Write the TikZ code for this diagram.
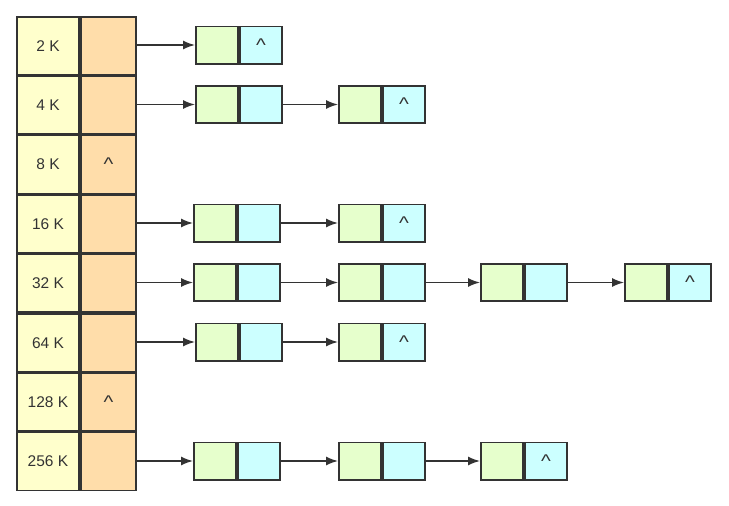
\documentclass[tikz,border=0pt]{standalone}
\usepackage{fontspec}
\usepackage{graphicx}
\setmainfont{Liberation Sans}
\usetikzlibrary{arrows.meta}
\definecolor{ln}{HTML}{333333}
\definecolor{cy}{HTML}{FFFFCC}
\definecolor{co}{HTML}{FFDDAA}
\definecolor{cg}{HTML}{E6FFCC}
\definecolor{cc}{HTML}{CCFFFF}
\newcommand{\nil}{\scalebox{1.3}[1.15]{\fontsize{16}{16}\selectfont\textasciicircum}}
\tikzset{
  cell/.style={draw=ln, line width=1.6pt, inner sep=0pt, text=ln, font=\fontsize{15.5}{15.5}\selectfont},
  keycell/.style={cell, fill=cy, minimum width=62.4pt, minimum height=57.8pt},
  ptrcell/.style={cell, fill=co, minimum width=55.4pt, minimum height=57.8pt},
  dcell/.style={cell, fill=cg, minimum width=42.4pt, minimum height=37.4pt},
  ncell/.style={cell, fill=cc, minimum width=42.4pt, minimum height=37.4pt},
  link/.style={draw=ln, line width=1.5pt, -{Latex[length=12pt,width=9pt]}}
}
\begin{document}
\begin{tikzpicture}[x=1pt,y=-1pt]
\useasboundingbox[fill=white] (0,0) rectangle (729,506);
% table
\foreach \i/\t/\p in {1/2 K/,2/4 K/,3/8 K/\nil,4/16 K/,5/32 K/,6/64 K/,7/128 K/\nil,8/256 K/}{
  \node[keycell] (k\i) at (48,{16+59.4*(\i-0.5)}) {\t};
  \node[ptrcell] (p\i) at (108.5,{16+59.4*(\i-0.5)}) {\p};
}
% row 1
\node[dcell, anchor=west] (a1a) at (195,45) {};
\node[ncell, anchor=west] (a1b) at (a1a.east) {\nil};
\draw[link] (p1.east |- a1a.west) -- (a1a.west);
% row 2
\node[dcell, anchor=west] (b1a) at (195,104.5) {};
\node[ncell, anchor=west] (b1b) at (b1a.east) {};
\node[dcell, anchor=west] (b2a) at (338,104.5) {};
\node[ncell, anchor=west] (b2b) at (b2a.east) {\nil};
\draw[link] (p2.east |- b1a.west) -- (b1a.west);
\draw[link] (b1b.east) -- (b2a.west);
% row 4
\node[dcell, anchor=west] (d1a) at (193,223) {};
\node[ncell, anchor=west] (d1b) at (d1a.east) {};
\node[dcell, anchor=west] (d2a) at (338,223) {};
\node[ncell, anchor=west] (d2b) at (d2a.east) {\nil};
\draw[link] (p4.east |- d1a.west) -- (d1a.west);
\draw[link] (d1b.east) -- (d2a.west);
% row 5
\node[dcell, anchor=west] (e1a) at (193,282.5) {};
\node[ncell, anchor=west] (e1b) at (e1a.east) {};
\node[dcell, anchor=west] (e2a) at (338,282.5) {};
\node[ncell, anchor=west] (e2b) at (e2a.east) {};
\node[dcell, anchor=west] (e3a) at (480,282.5) {};
\node[ncell, anchor=west] (e3b) at (e3a.east) {};
\node[dcell, anchor=west] (e4a) at (624,282.5) {};
\node[ncell, anchor=west] (e4b) at (e4a.east) {\nil};
\draw[link] (p5.east |- e1a.west) -- (e1a.west);
\draw[link] (e1b.east) -- (e2a.west);
\draw[link] (e2b.east) -- (e3a.west);
\draw[link] (e3b.east) -- (e4a.west);
% row 6
\node[dcell, anchor=west] (f1a) at (195,342) {};
\node[ncell, anchor=west] (f1b) at (f1a.east) {};
\node[dcell, anchor=west] (f2a) at (338,342) {};
\node[ncell, anchor=west] (f2b) at (f2a.east) {\nil};
\draw[link] (p6.east |- f1a.west) -- (f1a.west);
\draw[link] (f1b.east) -- (f2a.west);
% row 8
\node[dcell, anchor=west] (h1a) at (193,461) {};
\node[ncell, anchor=west] (h1b) at (h1a.east) {};
\node[dcell, anchor=west] (h2a) at (338,461) {};
\node[ncell, anchor=west] (h2b) at (h2a.east) {};
\node[dcell, anchor=west] (h3a) at (480,461) {};
\node[ncell, anchor=west] (h3b) at (h3a.east) {\nil};
\draw[link] (p8.east |- h1a.west) -- (h1a.west);
\draw[link] (h1b.east) -- (h2a.west);
\draw[link] (h2b.east) -- (h3a.west);
\end{tikzpicture}
\end{document}
